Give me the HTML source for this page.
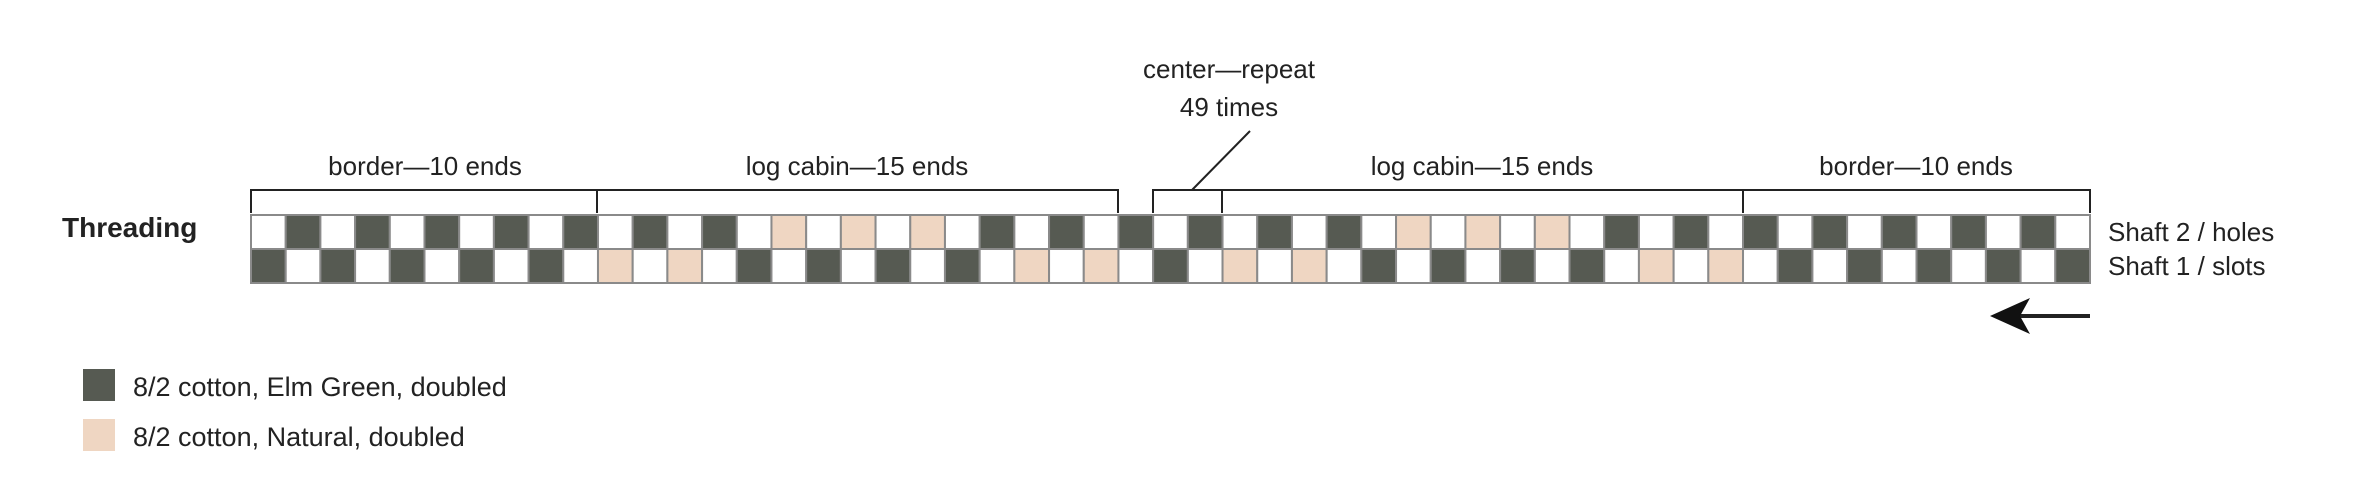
<!DOCTYPE html>
<html><head><meta charset="utf-8"><style>
html,body{margin:0;padding:0;background:#fff;}
svg{display:block;}
text{font-family:"Liberation Sans Narrow","Liberation Sans",sans-serif;fill:#222;}
</style></head><body>
<svg id="s" width="2378" height="501" viewBox="0 0 2378 501" xmlns="http://www.w3.org/2000/svg">
<g id="grid"></g>
<g stroke="#222" stroke-width="2" fill="none">
<polyline points="251,213 251,190 1118,190 1118,213"/>
<line x1="597" y1="190" x2="597" y2="213"/>
<polyline points="1153,213 1153,190 2090,190 2090,213"/>
<line x1="1222" y1="190" x2="1222" y2="213"/>
<line x1="1743" y1="190" x2="1743" y2="213"/>
<line x1="1250" y1="131" x2="1192" y2="190"/>
<line x1="2005" y1="316" x2="2090" y2="316" stroke-width="4"/>
</g>
<polygon points="1990,316 2030,298 2020,316 2030,334" fill="#111"/>
<g font-size="26" text-anchor="middle">
<text x="425" y="175">border—10 ends</text>
<text x="857" y="175">log cabin—15 ends</text>
<text x="1482" y="175">log cabin—15 ends</text>
<text x="1916" y="175">border—10 ends</text>
<text x="1229" y="78">center—repeat</text>
<text x="1229" y="116">49 times</text>
</g>
<text x="62" y="237" font-size="28" font-weight="bold" font-family="Liberation Sans, sans-serif">Threading</text>
<g font-size="26">
<text x="2108" y="241">Shaft 2 / holes</text>
<text x="2108" y="275">Shaft 1 / slots</text>
</g>
<g font-size="27">
<text x="133" y="396">8/2 cotton, Elm Green, doubled</text>
<text x="133" y="446">8/2 cotton, Natural, doubled</text>
</g>
<rect x="83" y="369" width="32" height="32" fill="#565a52"/>
<rect x="83" y="419" width="32" height="32" fill="#efd6c2"/>
</svg>
<script>
(function(){
var D="#565a52",T="#efd6c2";
var cols=[];
for(var i=0;i<10;i++)cols.push(D);
var lc=[T,D,T,D,D,T,D,T,D,T,D,D,T,D,T];
lc.forEach(function(c){cols.push(c);});
cols.push(D);cols.push(D);cols.push(D);
lc.slice().reverse().forEach(function(c){cols.push(c);});
for(var i=0;i<10;i++)cols.push(D);
var g=document.getElementById("grid");
var x0=251,w=(2090-251)/53,y0=215,h=34,s="";
for(var i=0;i<53;i++){
 var x=x0+i*w;
 var r1=(i%2==1)?cols[i]:"#fff", r2=(i%2==0)?cols[i]:"#fff";
 s+='<rect x="'+x+'" y="'+y0+'" width="'+w+'" height="'+h+'" fill="'+r1+'" stroke="#8a8a8a" stroke-width="2"/>';
 s+='<rect x="'+x+'" y="'+(y0+h)+'" width="'+w+'" height="'+h+'" fill="'+r2+'" stroke="#8a8a8a" stroke-width="2"/>';
}
g.innerHTML=s;
})();
</script>
</body></html>
